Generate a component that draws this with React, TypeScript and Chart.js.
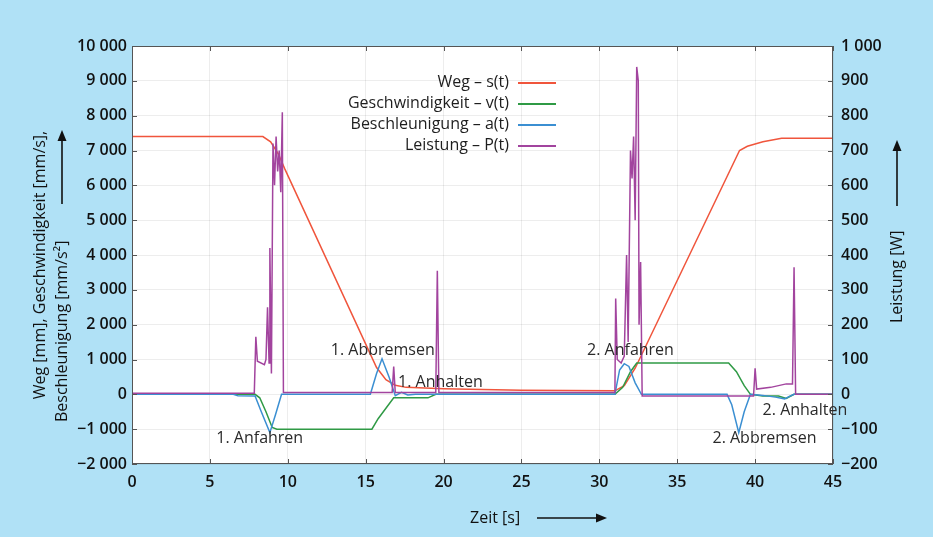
import React, { useEffect, useRef } from "react";
import { Chart, registerables } from "chart.js";

Chart.register(...registerables);

// ---------- data ----------
const wegTime = [0, 8.4, 8.9, 9.4, 9.8, 15.7, 16.3, 16.9, 17.6, 20, 25, 31.0, 31.6, 32.3, 39.0, 39.5, 40.5, 41.7, 45];
const wegValues = [7400, 7400, 7250, 6900, 6480, 770, 420, 260, 200, 160, 120, 100, 250, 750, 7000, 7120, 7250, 7350, 7350];

const vTime = [0, 7.9, 8.2, 8.6, 9.0, 9.3, 15.4, 15.8, 16.8, 19.0, 19.5, 31.0, 31.5, 32.0, 32.4, 38.3, 38.8, 39.3, 39.7, 40.5, 41.5, 42.0, 42.5, 45];
const vValues = [0, 0, -100, -500, -950, -1000, -1000, -700, -100, -100, 0, 0, 200, 650, 900, 900, 650, 250, 0, -50, -50, -120, 0, 0];

const aTime = [0, 6.5, 6.8, 7.9, 8.3, 8.85, 9.2, 9.6, 15.3, 15.7, 16.05, 16.5, 16.9, 17.3, 17.7, 18.2, 31.0, 31.3, 31.6, 31.9, 32.3, 32.7, 38.2, 38.5, 38.95, 39.3, 39.7, 40.5, 41.3, 41.9, 42.2, 42.5, 45];
const aValues = [0, 0, -40, -50, -500, -1100, -600, 0, 0, 600, 1020, 500, -40, 60, -20, 0, 0, 700, 880, 800, 330, 0, 0, -300, -1100, -500, 0, -30, -80, -130, -60, 0, 0];

const pTime = [0, 7.85, 7.95, 8.05, 8.5, 8.6, 8.7, 8.8, 8.85, 8.95, 9.05, 9.15, 9.25, 9.35, 9.45, 9.55, 9.65, 9.72, 16.7, 16.8, 16.9, 19.5, 19.6, 19.7, 31.0, 31.05, 31.15, 31.4, 31.6, 31.75, 31.85, 32.0, 32.1, 32.2, 32.3, 32.4, 32.5, 32.55, 32.65, 32.75, 39.9, 40.0, 40.1, 41.0, 42.0, 42.4, 42.5, 42.6, 45];
const pValues = [3, 3, 165, 95, 85, 100, 250, 90, 420, 60, 720, 600, 740, 640, 700, 580, 810, 5, 5, 80, 5, 5, 355, 5, 5, 275, 100, 90, 110, 400, 150, 700, 620, 740, 500, 940, 900, 200, 380, -5, -5, 75, 15, 20, 30, 30, 365, 0, 0];

const seriesNames = ["Weg – s(t)", "Geschwindigkeit – v(t)", "Beschleunigung – a(t)", "Leistung – P(t)"];
const seriesColors = ["#f0553c", "#2f9a45", "#3b8fd2", "#a2449e"];

const xTickValues = [0, 5, 10, 15, 20, 25, 30, 35, 40, 45];

const noteLabels = ["1. Anfahren", "1. Abbremsen", "1. Anhalten", "2. Anfahren", "2. Abbremsen", "2. Anhalten"];
const noteTime = [8.2, 16.1, 19.8, 32.0, 40.6, 43.2];
const noteValue = [-1280, 1250, 330, 1250, -1280, -470];

// ---------- helpers ----------
const FONT = "'Open Sans', 'Noto Sans', sans-serif";

function fmt(n: number): string {
  const abs = Math.abs(Math.round(n));
  const s = abs.toString().replace(/\B(?=(\d{3})+(?!\d))/g, " ");
  return (n < 0 ? "\u2212" : "") + s;
}

function pts(ts: number[], vs: number[]) {
  return ts.map((t, i) => ({ x: t, y: vs[i] }));
}

function arrow(ctx: CanvasRenderingContext2D, x1: number, y1: number, x2: number, y2: number) {
  const ang = Math.atan2(y2 - y1, x2 - x1);
  const head = 11;
  const w = 4.5;
  ctx.beginPath();
  ctx.moveTo(x1, y1);
  ctx.lineTo(x2 - Math.cos(ang) * head * 0.8, y2 - Math.sin(ang) * head * 0.8);
  ctx.lineWidth = 1.6;
  ctx.strokeStyle = "#111";
  ctx.stroke();
  ctx.beginPath();
  ctx.moveTo(x2, y2);
  ctx.lineTo(x2 - Math.cos(ang) * head - Math.sin(ang) * w, y2 - Math.sin(ang) * head + Math.cos(ang) * w);
  ctx.lineTo(x2 - Math.cos(ang) * head + Math.sin(ang) * w, y2 - Math.sin(ang) * head - Math.cos(ang) * w);
  ctx.closePath();
  ctx.fillStyle = "#111";
  ctx.fill();
}

const decorPlugin = {
  id: "decor",
  beforeDraw(chart: any) {
    const { ctx, chartArea: a, width, height } = chart;
    ctx.save();
    ctx.fillStyle = "rgb(176,225,246)";
    ctx.fillRect(0, 0, width, height);
    ctx.fillStyle = "#ffffff";
    ctx.fillRect(a.left, a.top, a.right - a.left, a.bottom - a.top);
    ctx.restore();
  },
  afterDraw(chart: any) {
    const { ctx, chartArea: a, scales } = chart;
    const xs = scales.x, yl = scales.y, yr = scales.y1;
    ctx.save();
    // frame
    ctx.strokeStyle = "#555";
    ctx.lineWidth = 1;
    ctx.strokeRect(a.left + 0.5, a.top + 0.5, a.right - a.left - 1, a.bottom - a.top - 1);
    // inward ticks
    ctx.beginPath();
    const tl = 5;
    xTickValues.forEach((t) => {
      const px = Math.round(xs.getPixelForValue(t)) + 0.5;
      ctx.moveTo(px, a.bottom); ctx.lineTo(px, a.bottom - tl);
      ctx.moveTo(px, a.top); ctx.lineTo(px, a.top + tl);
    });
    yl.ticks.forEach((tk: any) => {
      const py = Math.round(yl.getPixelForValue(tk.value)) + 0.5;
      ctx.moveTo(a.left, py); ctx.lineTo(a.left + tl, py);
    });
    yr.ticks.forEach((tk: any) => {
      const py = Math.round(yr.getPixelForValue(tk.value)) + 0.5;
      ctx.moveTo(a.right, py); ctx.lineTo(a.right - tl, py);
    });
    ctx.stroke();

    // annotations
    ctx.fillStyle = "#2a2a2a";
    ctx.font = `16px ${FONT}`;
    ctx.textAlign = "center";
    ctx.textBaseline = "middle";
    noteLabels.forEach((lbl, i) => {
      ctx.fillText(lbl, xs.getPixelForValue(noteTime[i]), yl.getPixelForValue(noteValue[i]));
    });

    // legend
    ctx.font = `16px ${FONT}`;
    ctx.textAlign = "right";
    const lx = 509;
    seriesNames.forEach((name, i) => {
      const y = 82 + i * 21;
      ctx.fillStyle = "#1e1e1e";
      ctx.fillText(name, lx, y);
      ctx.beginPath();
      ctx.moveTo(lx + 9, y + 1);
      ctx.lineTo(lx + 47, y + 1);
      ctx.strokeStyle = seriesColors[i];
      ctx.lineWidth = 2;
      ctx.stroke();
    });

    // axis titles
    ctx.fillStyle = "#111";
    ctx.font = `16px ${FONT}`;
    ctx.textBaseline = "middle";
    // left
    ctx.save();
    ctx.translate(40, 265);
    ctx.rotate(-Math.PI / 2);
    ctx.textAlign = "center";
    ctx.fillText("Weg [mm], Geschwindigkeit [mm/s],", 0, 0);
    ctx.restore();
    ctx.save();
    ctx.translate(62, 422);
    ctx.rotate(-Math.PI / 2);
    ctx.textAlign = "left";
    ctx.fillText("Beschleunigung [mm/s²]", 0, 0);
    ctx.restore();
    arrow(ctx, 62, 204, 62, 130);
    // right
    ctx.save();
    ctx.translate(897, 323);
    ctx.rotate(-Math.PI / 2);
    ctx.textAlign = "left";
    ctx.fillText("Leistung [W]", 0, 0);
    ctx.restore();
    arrow(ctx, 897, 206, 897, 140);
    // bottom
    ctx.textAlign = "left";
    ctx.fillText("Zeit [s]", 470, 518);
    arrow(ctx, 537, 518, 607, 518);
    ctx.restore();
  },
};

export default function App() {
  const ref = useRef<HTMLCanvasElement | null>(null);
  useEffect(() => {
    if (!ref.current) return;
    const mk = (i: number, data: any[], axis: string, order: number) => ({
      label: seriesNames[i],
      data,
      borderColor: seriesColors[i],
      backgroundColor: seriesColors[i],
      borderWidth: 1.5,
      pointRadius: 0,
      tension: 0,
      yAxisID: axis,
      order,
    });
    const chart = new Chart(ref.current, {
      type: "line",
      data: {
        datasets: [
          mk(0, pts(wegTime, wegValues), "y", 3),
          mk(1, pts(vTime, vValues), "y", 2),
          mk(2, pts(aTime, aValues), "y", 1),
          mk(3, pts(pTime, pValues), "y1", 0),
        ],
      },
      options: {
        animation: false,
        responsive: false,
        maintainAspectRatio: false,
        layout: { padding: { top: 46, left: 0, right: 0, bottom: 0 } },
        plugins: { legend: { display: false }, tooltip: { enabled: false } },
        scales: {
          x: {
            type: "linear",
            min: 0,
            max: 45,
            afterBuildTicks: (s: any) => { s.ticks = xTickValues.map((v) => ({ value: v })); },
            afterFit: (s: any) => { s.height = 73; },
            grid: { color: "rgba(0,0,0,0.07)", drawTicks: false },
            border: { display: false },
            ticks: { padding: 9, color: "#111", font: { family: FONT, size: 16, weight: "600" }, maxRotation: 0, callback: (v: any) => String(v) },
          },
          y: {
            type: "linear",
            position: "left",
            min: -2000,
            max: 10000,
            afterFit: (s: any) => { s.width = 132; },
            grid: { color: "rgba(0,0,0,0.07)", drawTicks: false },
            border: { display: false },
            ticks: { stepSize: 1000, padding: 5, color: "#111", font: { family: FONT, size: 16, weight: "600" }, callback: (v: any) => fmt(Number(v)) },
          },
          y1: {
            type: "linear",
            position: "right",
            min: -200,
            max: 1000,
            afterFit: (s: any) => { s.width = 100; },
            grid: { display: false, drawTicks: false },
            border: { display: false },
            ticks: { stepSize: 100, padding: 8, color: "#111", font: { family: FONT, size: 16, weight: "600" }, callback: (v: any) => fmt(Number(v)) },
          },
        },
      } as any,
      plugins: [decorPlugin],
    });
    return () => chart.destroy();
  }, []);
  return (
    <div style={{ position: "absolute", left: 0, top: 0, width: 933, height: 537 }}>
      <canvas ref={ref} width={933} height={537} style={{ display: "block" }} />
    </div>
  );
}
